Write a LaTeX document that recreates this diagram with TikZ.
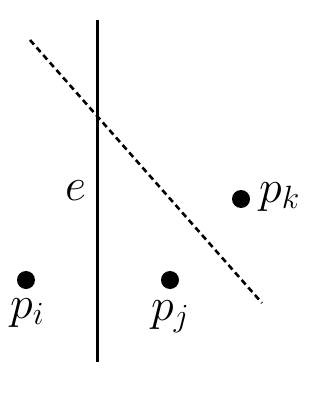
\RequirePackage{fix-cm}
\documentclass[tikz,border=0pt]{standalone}
\begin{document}
\begin{tikzpicture}[x=1pt,y=-1pt,
  solidline/.style={line width=3pt},
  dashline/.style={line width=2.6pt,dash pattern=on 6pt off 4pt},
  pt/.style={circle,fill=black,inner sep=0pt,minimum size=18pt},
  lbl/.style={inner sep=0pt,font=\fontsize{46}{54}\selectfont}]
\useasboundingbox (0,0) rectangle (329,398);
\coordinate (vt) at (97,20);
\coordinate (vb) at (97,362);
\coordinate (ds) at (30,40);
\coordinate (de) at (262,303);
\draw[solidline] (vt) -- (vb);
\draw[dashline] (ds) -- (de);
\node[pt] (pi) at (26,280) {};
\node[pt] (pj) at (170,280) {};
\node[pt] (pk) at (241,199) {};
\node[lbl,anchor=base west] (li) at (10,318) {$p_i$};
\node[lbl,anchor=base west] (lj) at (151,320) {$p_j$};
\node[lbl,anchor=base west] (lk) at (259,202) {$p_k$};
\node[lbl,anchor=base west] (le) at (65,200) {$e$};
\end{tikzpicture}
\end{document}
